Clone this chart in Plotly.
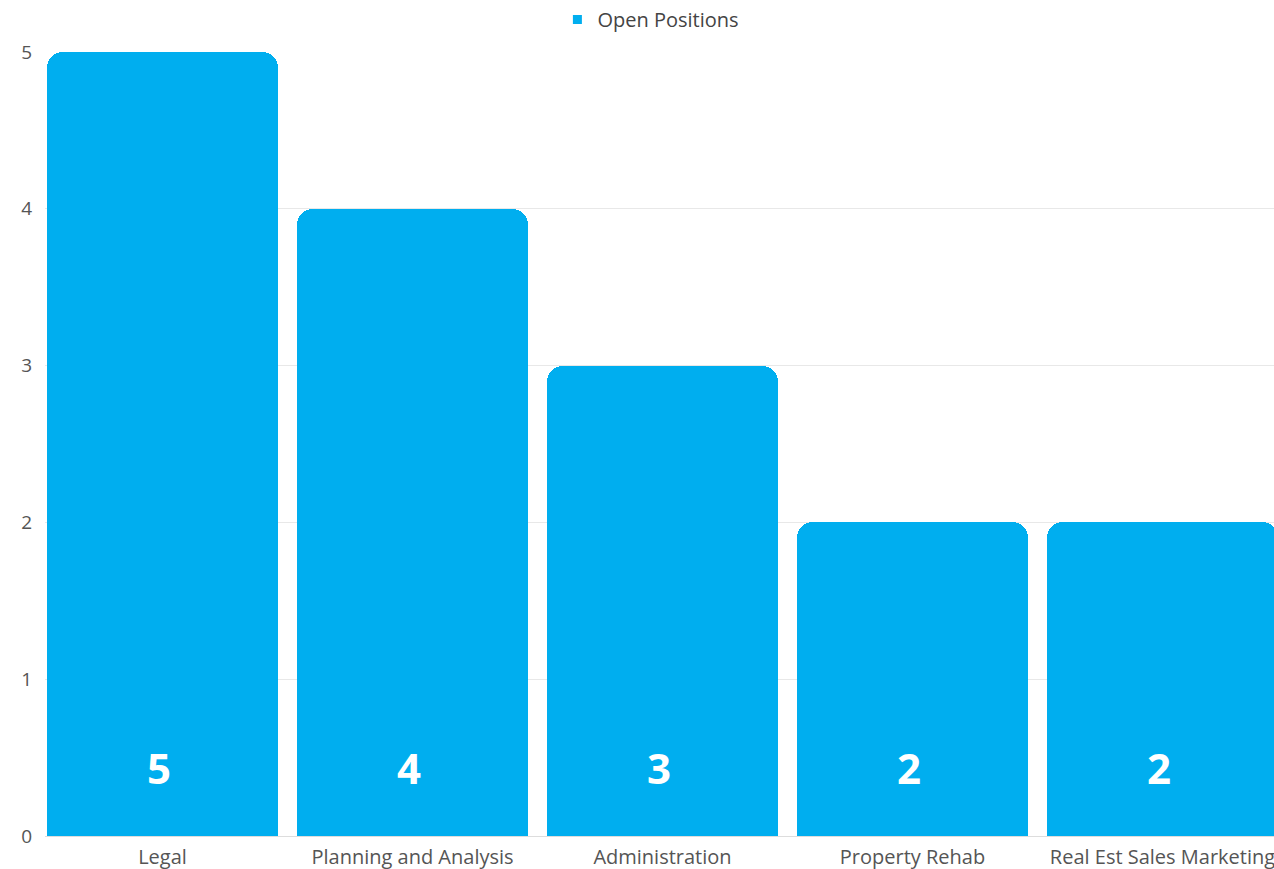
import plotly.graph_objects as go

categories = ["Legal", "Planning and Analysis", "Administration", "Property Rehab", "Real Est Sales Marketing"]
open_positions = [5, 4, 3, 2, 2]
y_ticks = [0, 1, 2, 3, 4, 5]

BAR_COLOR = "#00AEEF"
FONT = "Open Sans"
GRAY = "#555555"

fig = go.Figure()
fig.add_trace(go.Bar(
    x=list(range(len(categories))),
    y=open_positions,
    marker=dict(color=BAR_COLOR, cornerradius=16, line=dict(width=0)),
    width=0.924,
    showlegend=False,
    hoverinfo="skip",
))
# legend entry with a small square marker
fig.add_trace(go.Scatter(
    x=[None], y=[None], mode="markers", name="Open Positions",
    marker=dict(symbol="square", size=9, color=BAR_COLOR),
    showlegend=True,
))

for i, v in enumerate(open_positions):
    fig.add_annotation(
        x=i, y=0, text=f"<b>{v}</b>", showarrow=False,
        yanchor="middle", yshift=69, xshift=-4,
        font=dict(family=FONT, size=42, color="white"),
    )

fig.update_layout(
    width=1274, height=869,
    margin=dict(l=45, r=0, t=52, b=33),
    paper_bgcolor="white", plot_bgcolor="white",
    font=dict(family=FONT, size=19, color=GRAY),
    bargap=0,
    legend=dict(orientation="h", x=0.493, xanchor="center", y=1.0, yanchor="top",
                yref="container", font=dict(family=FONT, size=20, color="#444444"),
                itemwidth=30),
    xaxis=dict(
        tickmode="array", tickvals=list(range(len(categories))), ticktext=categories,
        range=[-0.47, 4.446], showgrid=False, zeroline=False, showline=False,
        ticks="", automargin=False, ticklabelstandoff=7, ticklabeloverflow="allow",
        tickfont=dict(family=FONT, size=20, color=GRAY),
        fixedrange=True,
    ),
    yaxis=dict(
        range=[0, 5], tickvals=y_ticks, showgrid=True, gridcolor="#E8E8E8", gridwidth=1,
        zeroline=True, zerolinecolor="#DDDDDD", zerolinewidth=1, showline=False,
        ticks="", automargin=False, ticklabelstandoff=12,
        tickfont=dict(family=FONT, size=19, color=GRAY),
    ),
)

fig.write_html("out.html", config={"displayModeBar": False})
